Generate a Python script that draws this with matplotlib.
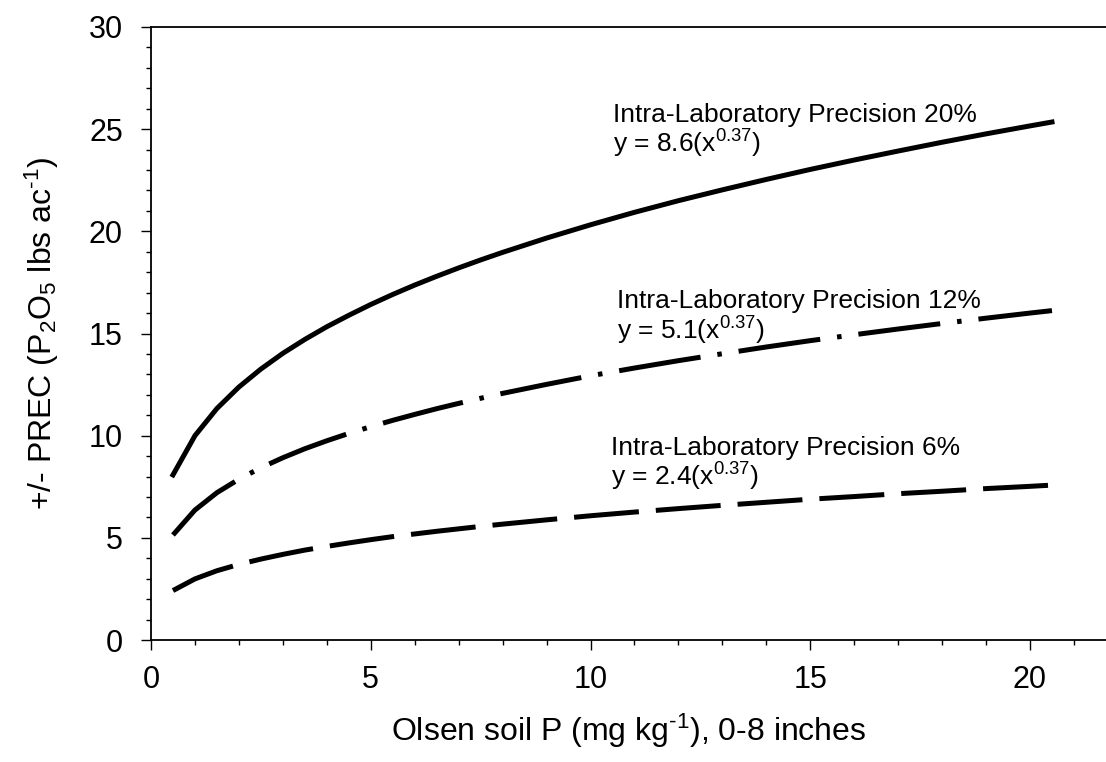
import numpy as np
import matplotlib
matplotlib.use('Agg')
import matplotlib.pyplot as plt
from matplotlib.ticker import MultipleLocator

plt.rcParams['font.family'] = ['Liberation Sans', 'DejaVu Sans']
plt.rcParams['mathtext.fontset'] = 'custom'
plt.rcParams['mathtext.rm'] = 'Liberation Sans'
plt.rcParams['mathtext.it'] = 'Liberation Sans'

# valores
olsen_p = [0.5, 1, 1.5, 2, 2.5, 3, 3.5, 4, 4.5, 5, 5.5, 6, 6.5, 7, 7.5, 8, 9, 10, 11, 12, 13,
           14, 15, 16, 17, 18, 19, 20, 20.5]
prec_20 = [8.08, 10.0, 11.33, 12.38, 13.26, 14.03, 14.71, 15.33, 15.89, 16.42, 16.91, 17.37,
           17.80, 18.21, 18.60, 18.97, 19.67, 20.32, 20.93, 21.50, 22.03, 22.54, 23.03, 23.49,
           23.93, 24.36, 24.77, 25.16, 25.35]
prec_12 = [5.14, 6.36, 7.21, 7.87, 8.43, 8.92, 9.36, 9.75, 10.11, 10.44, 10.75, 11.04, 11.32,
           11.58, 11.83, 12.07, 12.51, 12.93, 13.31, 13.67, 14.01, 14.34, 14.65, 14.94, 15.22,
           15.49, 15.75, 16.00, 16.12]
prec_6 = [2.42, 2.99, 3.39, 3.70, 3.96, 4.19, 4.40, 4.58, 4.75, 4.91, 5.06, 5.19, 5.32, 5.44,
          5.56, 5.67, 5.88, 6.08, 6.26, 6.43, 6.59, 6.74, 6.89, 7.02, 7.16, 7.28, 7.41, 7.52, 7.58]

etiquetas = ['Intra-Laboratory Precision 20%', 'Intra-Laboratory Precision 12%',
             'Intra-Laboratory Precision 6%']
ecuaciones = [r'y = 8.6(x$\mathregular{^{0.37}}$)', r'y = 5.1(x$\mathregular{^{0.37}}$)',
              r'y = 2.4(x$\mathregular{^{0.37}}$)']

fig = plt.figure(figsize=(11.06, 7.62), dpi=100)
ax = fig.add_axes([151/1106, 122/762, 955/1106, 613/762])

lw = 3.6
ax.plot(olsen_p, prec_20, color='black', lw=lw, solid_joinstyle='round')
ax.plot(olsen_p, prec_12, color='black', lw=lw, linestyle=(0, (16.5, 3.4, 0.9, 3.4)))
ax.plot(olsen_p, prec_6, color='black', lw=lw, linestyle=(0, (13, 3.4)))

# textos de las curvas
pos_texto = [(10.51, 25.35, 23.85), (10.6, 16.25, 14.7), (10.47, 9.06, 7.55)]
for (x, y1, y2), et, ec in zip(pos_texto, etiquetas, ecuaciones):
    ax.text(x, y1, et, fontsize=19, va='baseline', ha='left')
    ax.text(x, y2, ec, fontsize=19, va='baseline', ha='left')

ax.set_xlim(0, 955/43.95)
ax.set_ylim(0, 30)
ax.xaxis.set_major_locator(MultipleLocator(5))
ax.xaxis.set_minor_locator(MultipleLocator(1))
ax.yaxis.set_major_locator(MultipleLocator(5))
ax.yaxis.set_minor_locator(MultipleLocator(1))
ax.tick_params(which='major', length=7.2, width=1.0, labelsize=22, direction='out')
ax.tick_params(which='minor', length=3.6, width=1.0, direction='out')
ax.tick_params(axis='y', which='major', pad=13)
ax.tick_params(axis='x', which='major', pad=11)

ax.spines['right'].set_visible(False)
for s in ['left', 'bottom', 'top']:
    ax.spines[s].set_linewidth(1.3)

ax.set_xlabel('Olsen soil P (mg kg$\\mathregular{^{\u20101}}$), 0-8 inches', fontsize=23, labelpad=12)
ax.set_ylabel('+/- PREC (P$\\mathregular{_2}$O$\\mathregular{_5}$ lbs ac$\\mathregular{^{\u20101}}$)',
              fontsize=23, labelpad=20)

fig.savefig('out.png', dpi=100)
